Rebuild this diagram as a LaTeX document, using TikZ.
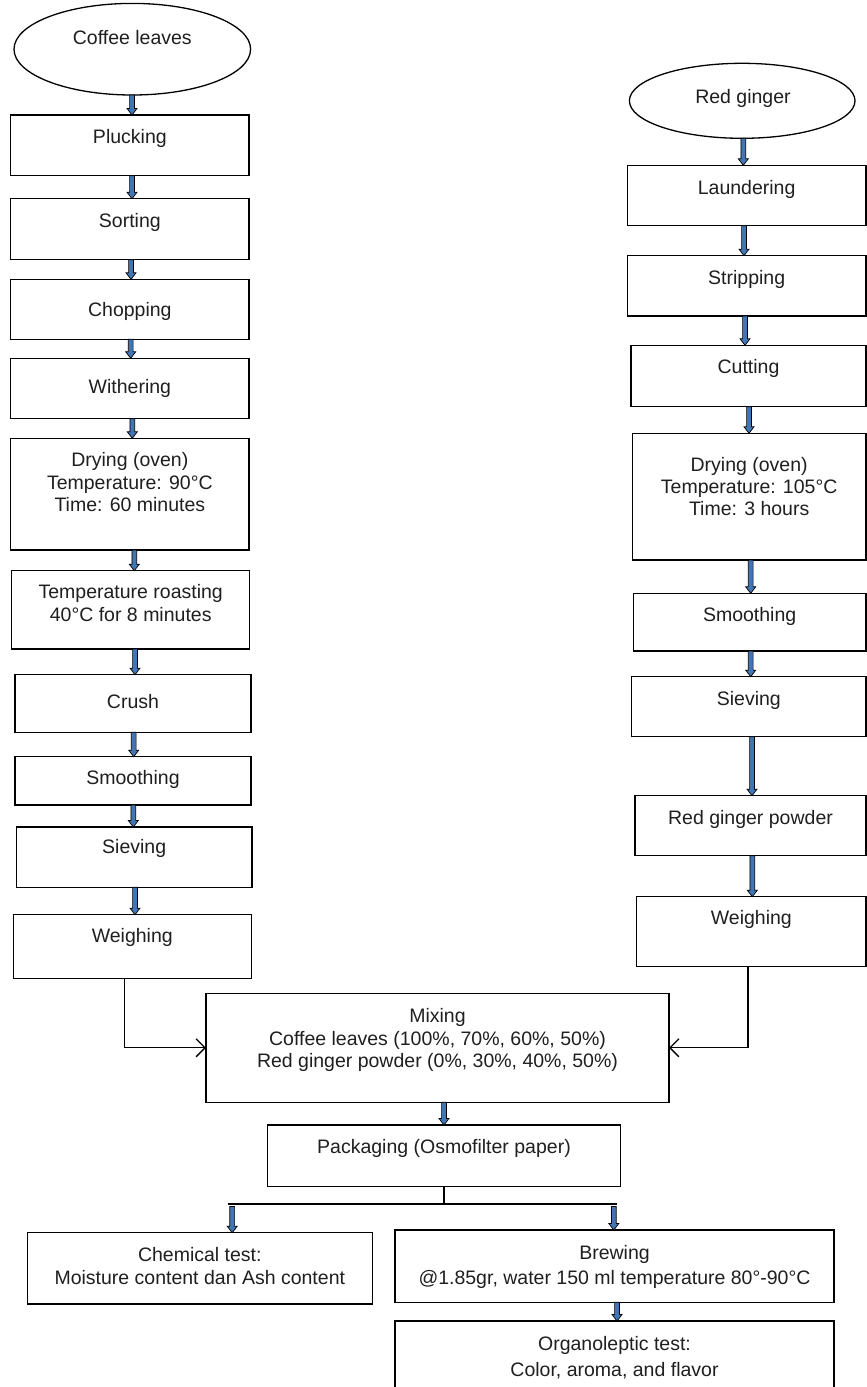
\documentclass[tikz,border=0pt]{standalone}
\usepackage{fontspec}
\setmainfont{Liberation Sans}
\usetikzlibrary{calc,shapes.geometric,arrows.meta}
\definecolor{arrowblue}{RGB}{66,118,178}
\newcommand\ts{\rule{0pt}{15pt}}
\tikzset{
 stepbox/.style={draw=black, line width=1.5pt, inner sep=0pt, outer sep=0pt, fill=white},
 txt/.style={inner sep=0pt, anchor=north, align=center, font=\fontsize{19.5}{22.5}\selectfont, text=black!88},
 blockarr/.style={draw=black, line width=0.7pt, fill=arrowblue, line join=miter},
 conn/.style={draw=black, line width=1.3pt, -{Straight Barb[length=9pt,width=18pt,line width=1.3pt]}},
 plain/.style={draw=black, line width=1.3pt},
 oval/.style={draw=black, ellipse, line width=1.3pt, inner sep=0pt, outer sep=0pt},
}
\newcommand\procbox[8]{%
 \node[stepbox, minimum width={(#4)-(#2)}, minimum height={(#5)-(#3)}] (#1) at ({((#2)+(#4))/2},{((#3)+(#5))/2}) {};
 \node[txt,#8] (#1-t) at ({((#2)+(#4))/2},{(#6)-8}) {\ts #7};}
\newcommand\barrow[2]{\path[blockarr] let \p1=(#1), \p2=(#2) in
 (\x1-2.4pt,\y1) -- (\x1-2.4pt,\y2+6.5pt) -- (\x1-5pt,\y2+6.5pt) -- (\x1,\y2) -- (\x1+5pt,\y2+6.5pt) -- (\x1+2.4pt,\y2+6.5pt) -- (\x1+2.4pt,\y1) -- cycle;}
\begin{document}
\begin{tikzpicture}[x=1pt,y=-1pt]
\useasboundingbox (0,0) rectangle (867,1387);
\fill[white] (0,0) rectangle (867,1387);
\clip (0,0) rectangle (867,1387);

% ---------- left column ----------
\node[oval, minimum width=236.6pt, minimum height=91.6pt] (ellA) at (132.3,49.2) {};
\node[txt] (ellA-t) at (132.3,{37.7-8}) {\ts Coffee leaves};
\procbox{pluck}{10.7}{115}{249}{175.7}{136}{Plucking}{}
\procbox{sort}{10.7}{198.7}{249}{259.7}{220.7}{Sorting}{}
\procbox{chop}{10.7}{279.3}{249}{339.3}{309}{Chopping}{}
\procbox{with}{10.7}{358.3}{249}{418.7}{386.7}{Withering}{}
\procbox{dryA}{10.7}{438.3}{249}{550}{459.3}{Drying (oven)\\Temperature: 90°C\\Time: 60 minutes}{}
\procbox{temp}{11.7}{570.7}{249.7}{649}{591.7}{Temperature roasting\\40°C for 8 minutes}{}
\procbox{crush}{15}{674.7}{251}{732.3}{701.7}{Crush}{}
\procbox{smoothA}{15}{756.7}{251}{805}{777.3}{Smoothing}{}
\procbox{sieveA}{16.3}{827}{252}{887.3}{846.7}{Sieving}{}
\procbox{weighA}{13.3}{914.7}{251.3}{978.3}{935.7}{Weighing}{}

% ---------- right column ----------
\node[oval, minimum width=225.6pt, minimum height=75pt] (ellB) at (742.2,100.8) {};
\node[txt] (ellB-t) at (743,{96-8}) {\ts Red ginger};
\procbox{laund}{627.3}{165.3}{866}{225.7}{187.3}{Laundering}{}
\procbox{strip}{627.3}{255.7}{866}{316}{277}{Stripping}{}
\procbox{cut}{631}{345.3}{866}{406.7}{366.7}{Cutting}{}
\procbox{dryB}{632.3}{433.3}{866}{560}{464}{Drying (oven)\\Temperature: 105°C\\Time: 3 hours}{font=\fontsize{19.5}{22}\selectfont}
\procbox{smoothB}{633.3}{593.3}{866}{651}{614}{Smoothing}{}
\procbox{sieveB}{631.7}{676.7}{866}{736.7}{698.3}{Sieving}{}
\procbox{rgp}{635}{795.7}{866}{855.7}{817.3}{Red ginger powder}{}
\procbox{weighB}{636.7}{896.7}{866}{966.7}{917.7}{Weighing}{}

% ---------- middle ----------
\procbox{mix}{206}{993.3}{669}{1102.3}{1015.7}{Mixing\\Coffee leaves (100\%, 70\%, 60\%, 50\%)\\Red ginger powder (0\%, 30\%, 40\%, 50\%)}{}
\procbox{pack}{267.6}{1125}{620.4}{1186.7}{1146.7}{Packaging (Osmofilter paper)}{}
\procbox{chem}{27.3}{1232.7}{372.3}{1304}{1254.5}{Chemical test:\\Moisture content dan Ash content}{}
\procbox{brew}{395}{1230}{834}{1302.3}{1252}{Brewing\\@1.85gr, water 150 ml temperature 80°-90°C}{font=\fontsize{19.5}{25}\selectfont}
\procbox{org}{395}{1321}{834}{1400}{1343}{Organoleptic test:\\Color, aroma, and flavor}{font=\fontsize{19.5}{26}\selectfont}

% ---------- x positions of block arrows ----------
\coordinate (ka1) at (132,0);
\coordinate (ka2) at (132,0);
\coordinate (ka3) at (131,0);
\coordinate (ka4) at (130.7,0);
\coordinate (ka5) at (132.3,0);
\coordinate (ka6) at (134.3,0);
\coordinate (ka7) at (135,0);
\coordinate (ka8) at (133.7,0);
\coordinate (ka9) at (133.3,0);
\coordinate (ka10) at (135,0);
\coordinate (kb1) at (743.3,0);
\coordinate (kb2) at (744,0);
\coordinate (kb3) at (745,0);
\coordinate (kb4) at (749,0);
\coordinate (kb5) at (750.7,0);
\coordinate (kb6) at (750.7,0);
\coordinate (kb7) at (752,0);
\coordinate (kb8) at (752.3,0);
\coordinate (km) at (444,0);
\coordinate (kbo) at (617,0);

\barrow{ellA.south -| ka1}{pluck.north -| ka1}
\barrow{pluck.south -| ka2}{sort.north -| ka2}
\barrow{sort.south -| ka3}{chop.north -| ka3}
\barrow{chop.south -| ka4}{with.north -| ka4}
\barrow{with.south -| ka5}{dryA.north -| ka5}
\barrow{dryA.south -| ka6}{temp.north -| ka6}
\barrow{temp.south -| ka7}{crush.north -| ka7}
\barrow{crush.south -| ka8}{smoothA.north -| ka8}
\barrow{smoothA.south -| ka9}{sieveA.north -| ka9}
\barrow{sieveA.south -| ka10}{weighA.north -| ka10}

\barrow{ellB.south -| kb1}{laund.north -| kb1}
\barrow{laund.south -| kb2}{strip.north -| kb2}
\barrow{strip.south -| kb3}{cut.north -| kb3}
\barrow{cut.south -| kb4}{dryB.north -| kb4}
\barrow{dryB.south -| kb5}{smoothB.north -| kb5}
\barrow{smoothB.south -| kb6}{sieveB.north -| kb6}
\barrow{sieveB.south -| kb7}{rgp.north -| kb7}
\barrow{rgp.south -| kb8}{weighB.north -| kb8}

% ---------- joins to mixing ----------
\coordinate (kc1) at (124.4,0);
\coordinate (kc2) at (748,0);
\draw[conn] (weighA.south -| kc1) |- (mix.west);
\draw[conn] (weighB.south -| kc2) |- (mix.east);

\barrow{mix.south -| km}{pack.north -| km}

% ---------- split ----------
\coordinate (ksplit) at (444,1204);
\coordinate (kl) at (228.4,1204);
\coordinate (kr) at (616.5,1204);
\draw[plain] (pack.south -| ksplit) -- (ksplit);
\draw[plain] (kl) -- (kr);
\coordinate (ks1) at (232.2,1206.5);
\coordinate (ks2) at (613.8,1206.5);
\barrow{ks1}{chem.north -| ks1}
\barrow{ks2}{brew.north -| ks2}
\barrow{brew.south -| kbo}{org.north -| kbo}
\end{tikzpicture}
\end{document}
